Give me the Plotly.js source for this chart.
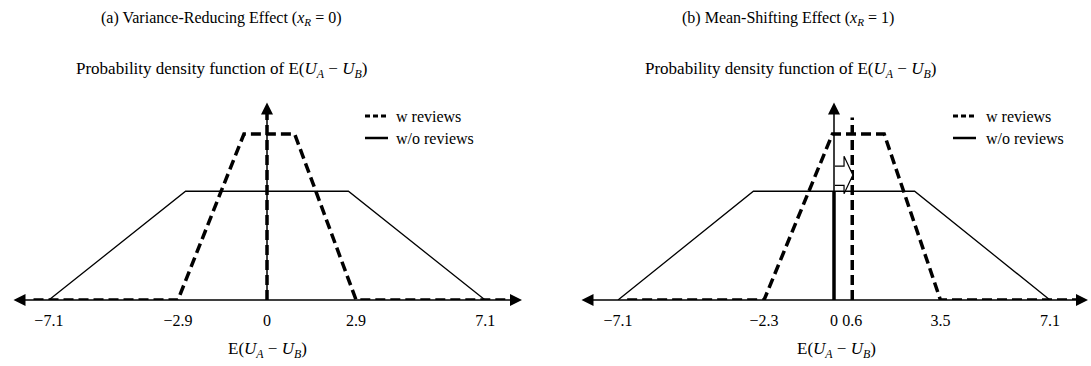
<!DOCTYPE html>
<html>
<head>
<meta charset="utf-8">
<script src="https://cdn.plot.ly/plotly-3.0.1.min.js"></script>
<style>html,body{margin:0;padding:0;background:#fff;}#chart{width:1091px;height:366px;}</style>
</head>
<body>
<div id="chart"></div>
<script>
// ---- data ----
const woX = [-7.1, -2.65, 2.65, 7.1];
const woY = [0, 0.655, 0.655, 0];
const wAX = [-7.6, -2.9, -0.75, 0.9, 2.9, 7.8];
const wAY = [0, 0, 1, 1, 0, 0];
const wBX = [-6.8, -2.3, -0.05, 1.65, 3.5, 8.25];
const wBY = [0, 0, 1, 1, 0, 0];
const meanAwX = [0, 0];   const meanAwY = [0, 1.15];
const meanBwoX = [0, 0];  const meanBwoY = [0, 0.655];
const meanBwX = [0.6, 0.6]; const meanBwY = [0, 1.1];
const shiftX = [0.03, 0.33, 0.33, 0.62, 0.33, 0.33, 0.03];
const shiftY = [0.69, 0.69, 0.64, 0.753, 0.866, 0.806, 0.806];
const ticksA = [-7.1, -2.9, 0, 2.9, 7.1];
const labelsA = ['\u22127.1', '\u22122.9', '0', '2.9', '7.1'];
const ticksB = [-7.1, -2.3, 0, 0.6, 3.5, 7.1];
const labelsB = ['\u22127.1', '\u22122.3', '0', '0.6', '3.5', '7.1'];
const xRangeA = [-8.3, 8.3];
const xRangeB = [-8.35, 8.35];
const yRange = [0, 1.807];
const yAxisTop = 1.19;
const titleA = '(a) Variance-Reducing Effect (<i>x</i><sub><i>R</i></sub> = 0)';
const titleB = '(b) Mean-Shifting Effect (<i>x</i><sub><i>R</i></sub> = 1)';
const subTitle = 'Probability density function of E(<i>U</i><sub><i>A</i></sub> \u2212 <i>U</i><sub><i>B</i></sub>)';
const axisTitle = 'E(<i>U</i><sub><i>A</i></sub> \u2212 <i>U</i><sub><i>B</i></sub>)';
const legendNames = ['w reviews', 'w/o reviews'];

// ---- styles ----
const FONT = 'Liberation Serif, Times New Roman, serif';
const W = 1091, H = 366;
const dashStyle = '10px,5px';
const thin = {color: '#000', width: 1.3};
const thickDash = {color: '#000', width: 3.5, dash: dashStyle};
const thickSolid = {color: '#000', width: 3.5};

function line(x, y, ln, xa, ya, extra) {
  return Object.assign({x: x, y: y, mode: 'lines', line: ln, xaxis: xa, yaxis: ya,
    hoverinfo: 'skip', showlegend: false, cliponaxis: false}, extra || {});
}

const traces = [
  line(woX, woY, thin, 'x', 'y'),
  line(wAX, wAY, thickDash, 'x', 'y'),
  line(meanAwX, meanAwY, thickDash, 'x', 'y'),
  line(woX, woY, thin, 'x2', 'y2'),
  line(wBX, wBY, thickDash, 'x2', 'y2'),
  line(meanBwoX, meanBwoY, thickSolid, 'x2', 'y2'),
  line(meanBwX, meanBwY, thickDash, 'x2', 'y2'),
  line(shiftX, shiftY, {color: '#000', width: 1.2}, 'x2', 'y2', {fill: 'toself', fillcolor: '#fff'})
];

function xaxisDef(domain, range, tv, tt, anchor) {
  return {domain: domain, range: range, anchor: anchor, showgrid: false, zeroline: false,
    showline: false, ticks: '', tickvals: tv, ticktext: tt, ticklabelstandoff: 9,
    tickfont: {family: FONT, size: 16, color: '#000'}, fixedrange: true};
}
function yaxisDef(anchor) {
  return {domain: [66 / H, 1], range: yRange, anchor: anchor, visible: false,
    showgrid: false, zeroline: false, fixedrange: true};
}

function axisArrows(xr, xa, ya) {
  const base = {text: '', showarrow: true, arrowhead: 2, arrowsize: 1.6, arrowwidth: 1.5,
    arrowcolor: '#000', xref: xa, yref: ya, axref: xa, ayref: ya, standoff: 0, startstandoff: 0};
  return [
    Object.assign({}, base, {x: xr[1], y: 0, ax: xr[0], ay: 0, arrowside: 'end+start',
      startarrowhead: 2, startarrowsize: 1.6}),
    Object.assign({}, base, {x: 0, y: yAxisTop, ax: 0, ay: 0})
  ];
}

function txt(text, xpx, ypx, size, anchor) {
  return {text: text, x: xpx / W, y: 1 - ypx / H, xref: 'paper', yref: 'paper',
    showarrow: false, xanchor: anchor || 'center', yanchor: 'middle',
    font: {family: FONT, size: size, color: '#000'}};
}

const annotations = []
  .concat(axisArrows(xRangeA, 'x', 'y'))
  .concat(axisArrows(xRangeB, 'x2', 'y2'))
  .concat([
    txt(titleA, 221, 18, 16),
    txt(titleB, 788, 18, 16),
    txt(subTitle, 221, 70, 17),
    txt(subTitle, 790, 70, 17),
    txt(axisTitle, 267, 350, 17),
    txt(axisTitle, 836, 350, 17),
    txt(legendNames[0], 394, 116, 16, 'left'),
    txt(legendNames[1], 394, 138, 16, 'left'),
    txt(legendNames[0], 984, 116, 16, 'left'),
    txt(legendNames[1], 984, 138, 16, 'left')
  ]);

function legLine(x0, x1, ypx, dash, width) {
  return {type: 'line', xref: 'paper', yref: 'paper', x0: x0 / W, x1: x1 / W,
    y0: 1 - ypx / H, y1: 1 - ypx / H, line: {color: '#000', width: width, dash: dash}};
}
const shapes = [
  legLine(365, 388, 116, '5px,3px', 3),
  legLine(365, 388, 138, 'solid', 2.5),
  legLine(953, 976, 116, '5px,3px', 3),
  legLine(953, 976, 138, 'solid', 2.5)
];

const layout = {
  width: W, height: H, margin: {l: 0, r: 0, t: 0, b: 0},
  paper_bgcolor: '#fff', plot_bgcolor: '#fff', showlegend: false,
  font: {family: FONT, color: '#000'},
  xaxis: xaxisDef([12 / W, 522 / W], xRangeA, ticksA, labelsA, 'y'),
  yaxis: yaxisDef('x'),
  xaxis2: xaxisDef([580 / W, 1088 / W], xRangeB, ticksB, labelsB, 'y2'),
  yaxis2: yaxisDef('x2'),
  annotations: annotations, shapes: shapes
};

Plotly.newPlot('chart', traces, layout, {displayModeBar: false, staticPlot: true});
</script>
</body>
</html>
